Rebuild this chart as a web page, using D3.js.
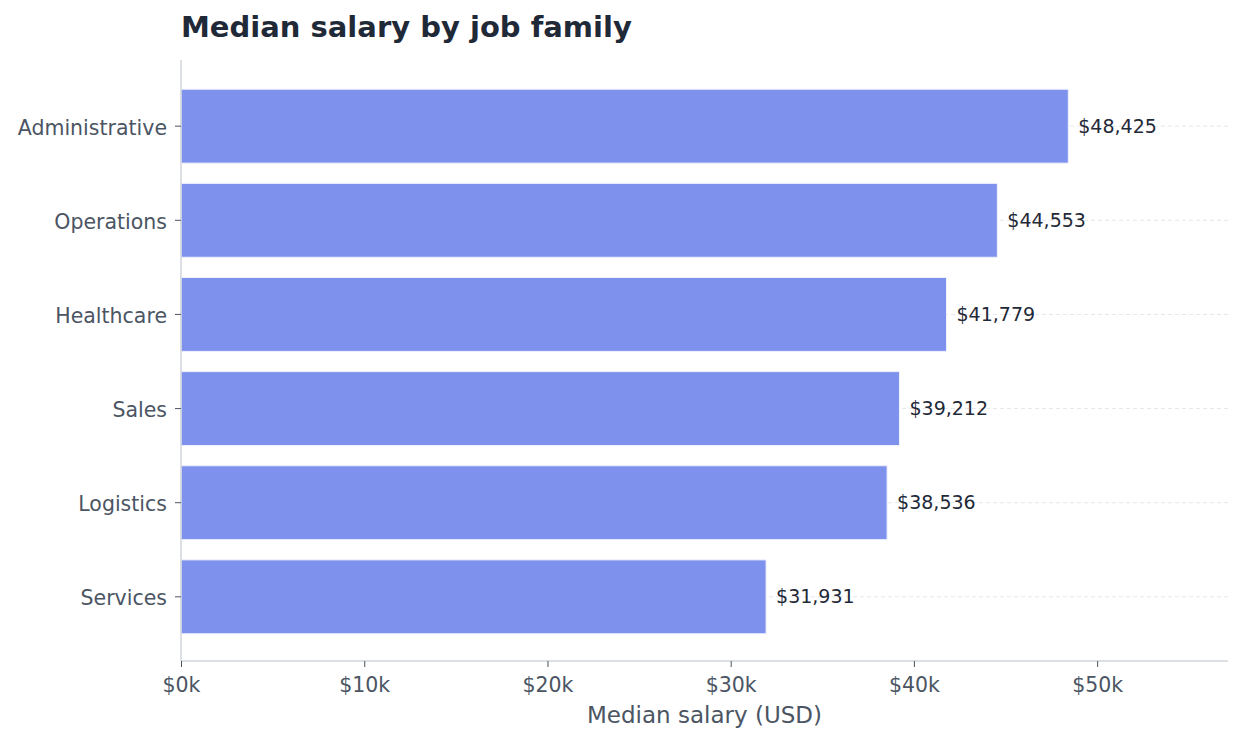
<!DOCTYPE html>
<html>
<head>
<meta charset="utf-8">
<script src="https://cdn.jsdelivr.net/npm/d3@7"></script>
<style>
  body { margin: 0; background: #fff; }
  svg { font-family: 'DejaVu Sans', sans-serif; }
</style>
</head>
<body>
<div id="chart-area"></div>
<script>
var categories = ['Administrative', 'Operations', 'Healthcare', 'Sales', 'Logistics', 'Services'];
var salaries = [48425, 44553, 41779, 39212, 38536, 31931];
var xTicks = [0, 10000, 20000, 30000, 40000, 50000];

var data = categories.map((c, i) => ({ job: c, salary: salaries[i] }));

var margin = { top: 60, left: 181, bottom: 82, right: 14 };
var width = 1242 - margin.left - margin.right;
var height = 743 - margin.top - margin.bottom;

var svg = d3.select('#chart-area').append('svg')
    .attr('width', 1242)
    .attr('height', 743);

var g = svg.append('g').attr('transform', `translate(${margin.left}, ${margin.top})`);

svg.append('text')
    .attr('x', margin.left)
    .attr('y', 37)
    .attr('font-size', '29px')
    .attr('font-weight', 'bold')
    .attr('fill', '#1f2937')
    .text('Median salary by job family');

var x = d3.scaleLinear().domain([0, d3.max(salaries) * 1.18]).range([0, width]);
var y = d3.scaleBand().domain(categories).range([1, height + 1]).paddingInner(0.215).paddingOuter(0.3);

// dashed guide lines at each category
g.selectAll('.grid').data(data).enter()
    .append('line')
    .attr('class', 'grid')
    .attr('x1', 0).attr('x2', width)
    .attr('y1', d => y(d.job) + y.bandwidth() / 2)
    .attr('y2', d => y(d.job) + y.bandwidth() / 2)
    .attr('stroke', '#e5e7eb')
    .attr('stroke-dasharray', '4,3')
    .attr('stroke-width', 1);

g.selectAll('rect').data(data).enter()
    .append('rect')
    .attr('x', x(0))
    .attr('y', d => y(d.job))
    .attr('width', d => x(d.salary) - x(0))
    .attr('height', y.bandwidth())
    .attr('fill', '#7e91ed')
    .attr('stroke', '#eef1fd')
    .attr('stroke-width', 1);

g.selectAll('.val').data(data).enter()
    .append('text')
    .attr('class', 'val')
    .attr('x', d => x(d.salary) + 10)
    .attr('y', d => y(d.job) + y.bandwidth() / 2)
    .attr('dy', '0.35em')
    .attr('font-size', '19px')
    .attr('fill', '#1f2937')
    .text(d => '$' + d3.format(',')(d.salary));

var xAxisCall = d3.axisBottom(x).tickValues(xTicks).tickSize(6).tickPadding(10)
    .tickFormat(d => `$${d / 1000}k`);
var xAxisGroup = g.append('g').attr('transform', `translate(0, ${height})`).call(xAxisCall);

var yAxisCall = d3.axisLeft(y).tickSize(6).tickPadding(8);
var yAxisGroup = g.append('g').call(yAxisCall);

[xAxisGroup, yAxisGroup].forEach(ax => {
    ax.select('.domain').attr('stroke', '#d1d5db').attr('stroke-width', 1.5);
    ax.selectAll('.tick line').attr('stroke', '#4b5563');
    ax.selectAll('.tick text').attr('fill', '#4b5563').attr('font-size', '20.5px')
        .attr('font-family', "'DejaVu Sans', sans-serif");
});
yAxisGroup.selectAll('.tick text').attr('dy', '0.42em');
// drop the outer ticks on the domain path
xAxisGroup.select('.domain').attr('d', `M0,0H${width}`);
yAxisGroup.select('.domain').attr('d', `M0,0V${height}`);

g.append('text')
    .attr('x', width / 2)
    .attr('y', height + 62)
    .attr('text-anchor', 'middle')
    .attr('font-size', '23px')
    .attr('fill', '#4b5563')
    .text('Median salary (USD)');
</script>
</body>
</html>
